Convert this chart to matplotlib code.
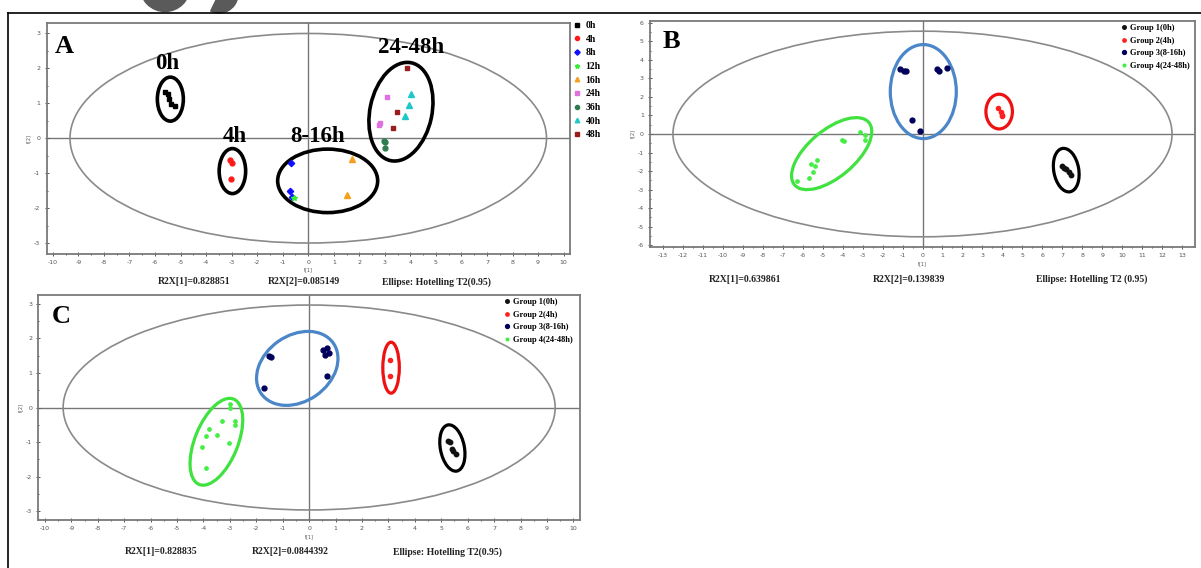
import matplotlib
matplotlib.use('Agg')
import matplotlib.pyplot as plt
import numpy as np
from matplotlib.patches import Ellipse, Circle, Wedge
from matplotlib.transforms import ScaledTranslation, Affine2D
from matplotlib.lines import Line2D

plt.rcParams['axes.unicode_minus'] = False

W, H = 1201, 568

# ---- panel A: PCA scores for every time point ----
a_t1_0h = [-5.6, -5.5, -5.45, -5.38, -5.23]
a_t2_0h = [1.33, 1.26, 1.12, 0.98, 0.91]
a_t1_4h = [-3.06, -3.0, -3.02]
a_t2_4h = [-0.62, -0.7, -1.18]
a_t1_8h = [-0.67, -0.72, -0.65]
a_t2_8h = [-0.72, -1.52, -1.67]
a_t1_12h = [-0.55]
a_t2_12h = [-1.7]
a_t1_16h = [1.73, 1.53]
a_t2_16h = [-0.6, -1.63]
a_t1_24h = [3.07, 2.82, 2.78]
a_t2_24h = [1.18, 0.45, 0.37]
a_t1_36h = [2.98, 3.0, 3.0]
a_t2_36h = [-0.08, -0.12, -0.27]
a_t1_40h = [4.03, 3.93, 3.8]
a_t2_40h = [1.26, 0.96, 0.65]
a_t1_48h = [3.87, 3.48, 3.3]
a_t2_48h = [2.0, 0.75, 0.3]
a_r2x = ['R2X[1]=0.828851', 'R2X[2]=0.085149', 'Ellipse: Hotelling T2(0.95)']

# ---- panel B: four groups ----
b_t1_g1 = [7.0, 7.1, 7.2, 7.35, 7.45]
b_t2_g1 = [-1.75, -1.85, -1.9, -2.05, -2.2]
b_t1_g2 = [3.8, 3.95, 4.0, 4.0]
b_t2_g2 = [1.4, 1.2, 1.05, 0.95]
b_t1_g3 = [-1.11, -0.92, -0.82, 0.71, 0.85, 1.23, -0.54, -0.15]
b_t2_g3 = [3.49, 3.42, 3.42, 3.49, 3.39, 3.55, 0.74, 0.18]
b_t1_g4 = [-6.29, -5.71, -5.48, -5.58, -5.39, -5.29, -4.04, -3.95, -3.13, -2.9, -2.86]
b_t2_g4 = [-2.54, -2.36, -2.07, -1.63, -1.72, -1.4, -0.3, -0.36, 0.09, -0.32, -0.05]
b_r2x = ['R2X[1]=0.639861', 'R2X[2]=0.139839', 'Ellipse: Hotelling T2 (0.95)']

# ---- panel C: four groups ----
c_t1_g1 = [5.27, 5.34, 5.41, 5.45, 5.56]
c_t2_g1 = [-0.97, -1.01, -1.21, -1.26, -1.35]
c_t1_g2 = [3.07, 3.07]
c_t2_g2 = [1.36, 0.92]
c_t1_g3 = [-1.52, -1.46, 0.51, 0.68, 0.59, 0.75, 0.68, -1.71]
c_t2_g3 = [1.49, 1.46, 1.67, 1.72, 1.52, 1.57, 0.9, 0.57]
c_t1_g4 = [-2.98, -2.98, -2.79, -2.79, -3.3, -3.8, -3.92, -3.48, -4.06, -3.05, -3.92]
c_t2_g4 = [0.09, -0.01, -0.39, -0.51, -0.39, -0.61, -0.82, -0.78, -1.13, -1.03, -1.76]
c_r2x = ['R2X[1]=0.828835', 'R2X[2]=0.0844392', 'Ellipse: Hotelling T2(0.95)']

group_names = ['Group 1(0h)', 'Group 2(4h)', 'Group 3(8-16h)', 'Group 4(24-48h)']
group_colors = ['#111111', '#ff2020', '#00005a', '#44ee44']

SERIF = 'Liberation Serif'


def fx(x):
    return x / W


def fy(y):
    return 1 - y / H


def ring(fig, ax, cx, cy, w, h, ang, color, lw):
    # ellipse sized in pixels, centred on a data point
    tr = fig.dpi_scale_trans + ScaledTranslation(cx, cy, ax.transData)
    ax.add_patch(Ellipse((0, 0), w / fig.dpi, h / fig.dpi, angle=ang,
                         transform=tr, fill=False, ec=color, lw=lw, zorder=4))


def setup(ax, xmax, ymax, xlim, ylim, hx, hy):
    ax.set_xlim(-xlim, xlim)
    ax.set_ylim(-ylim, ylim)
    ax.set_xticks(np.arange(-xmax, xmax + 1))
    ax.set_yticks(np.arange(-ymax, ymax + 1))
    ax.set_xticks(np.arange(-xmax, xmax + 0.5, 0.5), minor=True)
    ax.set_yticks(np.arange(-ymax, ymax + 0.5, 0.5), minor=True)
    ax.tick_params(which='both', direction='inout', colors='#555555',
                   labelsize=4.5, width=0.7, pad=3)
    ax.tick_params(which='major', length=3)
    ax.tick_params(which='minor', length=2)
    for s in ax.spines.values():
        s.set_color('#7a7a7a')
        s.set_linewidth(1.3)
    ax.axhline(0, color='#777777', lw=1.0, zorder=1)
    ax.axvline(0, color='#777777', lw=1.0, zorder=1)
    ax.add_patch(Ellipse((0, 0), 2 * hx, 2 * hy, fill=False, ec='#8a8a8a', lw=1.2, zorder=2))
    ax.set_xlabel('t[1]', fontsize=3.5, color='#555555', labelpad=2)
    ax.set_ylabel('t[2]', fontsize=3.5, color='#555555', labelpad=2)


fig = plt.figure(figsize=(W / 100, H / 100), dpi=100)

# decorations of the page
pix = Affine2D().scale(1, -1).translate(0, H)
fig.add_artist(Circle((165, -13.5), 25, transform=pix, color='#5a5a5a'))
fig.add_artist(Wedge((219, -6), 19, -100, 116, transform=pix, color='#5a5a5a'))
fig.add_artist(Line2D([fx(7.5), 1], [fy(13.3), fy(13.3)], color='black', lw=1.2))
fig.add_artist(Line2D([fx(7.5), fx(7.5)], [fy(13.3), 0], color='black', lw=1.2))

# ---------------- A ----------------
axA = fig.add_axes([fx(46.5), fy(253.5), (570 - 46.5) / W, (253.5 - 23) / H])
setup(axA, 10, 3, 10.25, 3.3, 9.33, 3.0)
a_series = [
    ('0h', a_t1_0h, a_t2_0h, 's', '#000000', 3.2),
    ('4h', a_t1_4h, a_t2_4h, 'o', '#ff1a1a', 3.5),
    ('8h', a_t1_8h, a_t2_8h, 'D', '#1010ff', 3.2),
    ('12h', a_t1_12h, a_t2_12h, '*', '#33ee33', 4.0),
    ('16h', a_t1_16h, a_t2_16h, '^', '#f5a020', 3.8),
    ('24h', a_t1_24h, a_t2_24h, 's', '#e070e0', 3.5),
    ('36h', a_t1_36h, a_t2_36h, 'o', '#2e7d4f', 3.5),
    ('40h', a_t1_40h, a_t2_40h, '^', '#1ec8c8', 3.8),
    ('48h', a_t1_48h, a_t2_48h, 's', '#9b1c1c', 3.5),
]
handles = []
for name, xs, ys, mk, col, ms in a_series:
    axA.plot(xs, ys, ls='none', marker=mk, color=col, ms=ms, zorder=5)
    handles.append(Line2D([], [], ls='none', marker=mk, color=col, ms=ms * 0.85, label=name))
axA.legend(handles=handles, loc='upper left', bbox_to_anchor=(fx(573), fy(21)),
           bbox_transform=fig.transFigure, frameon=False, borderpad=0, borderaxespad=0,
           handlelength=0.8, handletextpad=0.5, labelspacing=0.48,
           prop=dict(family=SERIF, weight='bold', size=7))

a_rings = [(-5.4, 1.12, 26, 44, 0), (-2.97, -0.94, 26.5, 45, 0),
           (0.76, -1.22, 100, 63.5, 0), (3.63, 0.76, 100, 62, 78)]
for cx, cy, w, h, ang in a_rings:
    ring(fig, axA, cx, cy, w, h, ang, 'black', 2.6)
a_tags = [('0h', -5.53, 2.15), ('4h', -2.89, 0.05), ('8-16h', 0.38, 0.05), ('24-48h', 4.02, 2.6)]
for t, x, y in a_tags:
    axA.text(x, y, t, ha='center', va='center', family=SERIF, weight='bold', fontsize=16.5, zorder=6)
axA.text(0.016, 0.896, 'A', transform=axA.transAxes, family=SERIF, weight='bold', fontsize=19, va='center')

# ---------------- B ----------------
axB = fig.add_axes([fx(650), fy(247), (1195 - 650) / W, (247 - 21) / H])
setup(axB, 13, 6, 13.65, 6.1, 12.5, 5.55)
b_t1 = [b_t1_g1, b_t1_g2, b_t1_g3, b_t1_g4]
b_t2 = [b_t2_g1, b_t2_g2, b_t2_g3, b_t2_g4]
sizes = [3.2, 3.0, 3.5, 2.4]
for xs, ys, col, ms, name in zip(b_t1, b_t2, group_colors, sizes, group_names):
    axB.plot(xs, ys, ls='none', marker='o', color=col, ms=ms, zorder=5, label=name)
axB.legend(loc='upper right', bbox_to_anchor=(fx(1190), fy(24)), bbox_transform=fig.transFigure,
           frameon=False, borderpad=0, borderaxespad=0, handlelength=0.6, handletextpad=0.4,
           labelspacing=0.55, markerscale=0.8, prop=dict(family=SERIF, weight='bold', size=6))
b_rings = [(7.2, -1.95, 44, 25, 100, '#000000'), (3.84, 1.21, 26.5, 34.7, 0, '#ee1111'),
           (0.04, 2.29, 66, 94, 0, '#4a86c8'), (-4.55, -1.06, 97, 47, 40, '#3fe23f')]
for cx, cy, w, h, ang, col in b_rings:
    ring(fig, axB, cx, cy, w, h, ang, col, 2.3)
axB.text(0.024, 0.908, 'B', transform=axB.transAxes, family=SERIF, weight='bold', fontsize=19, va='center')

# ---------------- C ----------------
axC = fig.add_axes([fx(38.3), fy(520), (580 - 38.3) / W, (520 - 295) / H])
setup(axC, 10, 3, 10.25, 3.25, 9.31, 2.96)
c_t1 = [c_t1_g1, c_t1_g2, c_t1_g3, c_t1_g4]
c_t2 = [c_t2_g1, c_t2_g2, c_t2_g3, c_t2_g4]
for xs, ys, col, ms, name in zip(c_t1, c_t2, group_colors, sizes, group_names):
    axC.plot(xs, ys, ls='none', marker='o', color=col, ms=ms, zorder=5, label=name)
axC.legend(loc='upper right', bbox_to_anchor=(fx(573), fy(298)), bbox_transform=fig.transFigure,
           frameon=False, borderpad=0, borderaxespad=0, handlelength=0.6, handletextpad=0.4,
           labelspacing=0.55, markerscale=0.8, prop=dict(family=SERIF, weight='bold', size=6))
c_rings = [(5.42, -1.17, 47, 24, 101, '#000000'), (3.1, 1.15, 16.5, 51, 0, '#ee1111'),
           (-0.45, 1.13, 88, 66, 35, '#4a86c8'), (-3.51, -0.99, 92, 43, 68, '#3fe23f')]
for cx, cy, w, h, ang, col in c_rings:
    ring(fig, axC, cx, cy, w, h, ang, col, 2.3)
axC.text(0.025, 0.904, 'C', transform=axC.transAxes, family=SERIF, weight='bold', fontsize=19, va='center')

# R2X captions under each panel
caps = [(a_r2x, [194, 304, 436], 282), (b_r2x, [745, 909, 1092], 279.5), (c_r2x, [161, 290, 447], 552)]
for texts, xs, y in caps:
    for t, x in zip(texts, xs):
        fig.text(fx(x), fy(y), t, ha='center', va='center', family=SERIF, weight='bold',
                 fontsize=7, color='#222222')

fig.savefig('out.png', dpi=100)
